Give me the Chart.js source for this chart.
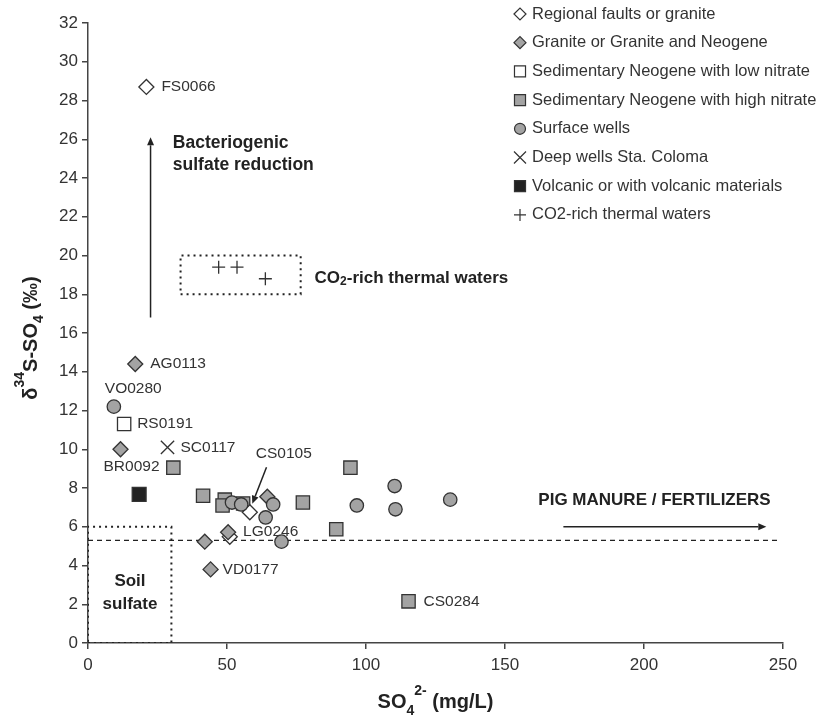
<!DOCTYPE html>
<html>
<head>
<meta charset="utf-8">
<script src="https://cdn.jsdelivr.net/npm/chart.js@4"></script>
<style>
html, body { margin: 0; padding: 0; background: #fff; }
#wrap { width: 820px; height: 719px; }
</style>
</head>
<body>
<div id="wrap"><canvas id="chart" width="820" height="719"></canvas></div>
<script>
// Ticks
const xTickValues = [0, 50, 100, 150, 200, 250];
const yTickValues = [0, 2, 4, 6, 8, 10, 12, 14, 16, 18, 20, 22, 24, 26, 28, 30, 32];

// Series (SO4 mg/L, d34S permil)
const faultsX = [21, 58.2, 51.0];
const faultsY = [28.7, 6.75, 5.48];

const graniteX = [17, 11.7, 64.5, 50.4, 42, 44.1];
const graniteY = [14.4, 10.0, 7.55, 5.72, 5.23, 3.8];

const lowNitrateX = [13];
const lowNitrateY = [11.3];

const highNitrateX = [30.7, 41.4, 49.2, 48.4, 55.8, 77.3, 94.4, 89.3, 115.3];
const highNitrateY = [9.05, 7.6, 7.4, 7.1, 7.2, 7.25, 9.05, 5.87, 2.15];

const surfaceX = [9.3, 51.8, 55.1, 66.6, 63.9, 69.6, 96.7, 110.3, 110.6, 130.3];
const surfaceY = [12.2, 7.25, 7.15, 7.15, 6.48, 5.23, 7.1, 8.1, 6.9, 7.4];

const deepX = [28.6];
const deepY = [10.1];

const volcanicX = [18.4];
const volcanicY = [7.67];

const co2X = [47, 53.6, 63.8];
const co2Y = [19.4, 19.4, 18.8];

// Reference lines / boxes
const thresholdY = 5.3;
const thresholdXEnd = 248;
const soilBox = { x0: 0, x1: 30, y0: 0, y1: 6 };
const co2Box = { x0: 33.3, x1: 76.5, y0: 18, y1: 20 };

// Labelled samples
const pointLabels = [
    { name: "FS0066", x: 21, y: 28.7 },
    { name: "AG0113", x: 17, y: 14.4 },
    { name: "VO0280", x: 9.3, y: 12.2 },
    { name: "RS0191", x: 13, y: 11.3 },
    { name: "BR0092", x: 11.7, y: 10.0 },
    { name: "SC0117", x: 28.6, y: 10.1 },
    { name: "CS0105", x: 58.2, y: 6.75 },
    { name: "LG0246", x: 50.4, y: 5.72 },
    { name: "VD0177", x: 44.1, y: 3.8 },
    { name: "CS0284", x: 115.3, y: 2.15 },
];

const FONT = '"Liberation Sans", Arial, sans-serif';
const GRAY = "#a3a3a3";
const EDGE = "#333";
const zip = (xs, ys) => xs.map((x, i) => ({ x, y: ys[i] }));

// label offsets in pixels from the point
const labelOffsets = {
    FS0066: [15, 0], AG0113: [15, 0], VO0280: [-9, -18], RS0191: [13, 0],
    BR0092: [-17, 17], SC0117: [13, 0], CS0105: [6, -59], LG0246: [15, 0],
    VD0177: [12, 0], CS0284: [15, 0],
};

const legendItems = [
    { text: "Regional faults or granite", style: "rectRot", fill: "#fff", r: 6 },
    { text: "Granite or Granite and Neogene", style: "rectRot", fill: GRAY, r: 6 },
    { text: "Sedimentary Neogene with low nitrate", style: "rect", fill: "#fff", r: 7.8 },
    { text: "Sedimentary Neogene with high nitrate", style: "rect", fill: GRAY, r: 7.8 },
    { text: "Surface wells", style: "circle", fill: GRAY, r: 5.5 },
    { text: "Deep wells Sta. Coloma", style: "crossRot", fill: "#fff", r: 8.5 },
    { text: "Volcanic or with volcanic materials", style: "rect", fill: "#222", r: 7.8 },
    { text: "CO2-rich thermal waters", style: "cross", fill: "#fff", r: 6 },
];

function scatterSet(label, xs, ys, style, fill, radius, order) {
    return {
        type: "scatter", label, data: zip(xs, ys), order,
        pointStyle: style, pointRadius: radius, pointHoverRadius: radius,
        backgroundColor: fill, borderColor: EDGE, borderWidth: 1.3,
    };
}

function lineSet(points, dash, width) {
    return {
        type: "line", data: points, order: 20, showLine: true,
        borderColor: "#222", borderWidth: width, borderDash: dash,
        pointRadius: 0, fill: false, tension: 0, borderCapStyle: "butt",
    };
}

function boxPoints(b) {
    return [
        { x: b.x0, y: b.y0 }, { x: b.x1, y: b.y0 }, { x: b.x1, y: b.y1 },
        { x: b.x0, y: b.y1 }, { x: b.x0, y: b.y0 },
    ];
}

function arrow(ctx, x1, y1, x2, y2) {
    const a = Math.atan2(y2 - y1, x2 - x1), head = 8, w = 3.5;
    const bx = x2 - head * Math.cos(a), by = y2 - head * Math.sin(a);
    ctx.beginPath(); ctx.moveTo(x1, y1); ctx.lineTo(bx, by); ctx.stroke();
    ctx.beginPath();
    ctx.moveTo(x2, y2);
    ctx.lineTo(bx + w * Math.sin(a), by - w * Math.cos(a));
    ctx.lineTo(bx - w * Math.sin(a), by + w * Math.cos(a));
    ctx.closePath(); ctx.fill();
}

// parts: [text, fontSize, dy]
function richText(ctx, parts, x, y, bold) {
    const w = parts.reduce((s, p) => {
        ctx.font = `${bold ? "bold " : ""}${p[1]}px ${FONT}`;
        return s + ctx.measureText(p[0]).width;
    }, 0);
    let cx = x - w / 2;
    parts.forEach(p => {
        ctx.font = `${bold ? "bold " : ""}${p[1]}px ${FONT}`;
        ctx.fillText(p[0], cx, y + p[2]);
        cx += ctx.measureText(p[0]).width;
    });
}

const annotations = {
    id: "annotations",
    afterDatasetsDraw(chart) {
        const { ctx, scales: { x, y } } = chart;
        const px = v => x.getPixelForValue(v), py = v => y.getPixelForValue(v);
        ctx.save();
        ctx.fillStyle = "#333";
        ctx.strokeStyle = "#222";
        ctx.textBaseline = "middle";
        ctx.textAlign = "left";

        // sample labels
        ctx.font = `15.5px ${FONT}`;
        pointLabels.forEach(l => {
            const o = labelOffsets[l.name];
            ctx.fillText(l.name, px(l.x) + o[0], py(l.y) + o[1]);
        });

        // arrows
        ctx.fillStyle = "#222";
        ctx.lineWidth = 1.5;
        arrow(ctx, px(22.5), py(16.8), px(22.5), py(26.1));
        arrow(ctx, px(171), py(6.0), px(244), py(6.0));
        const cs = pointLabels.find(l => l.name === "CS0105");
        arrow(ctx, px(cs.x) + 16.7, py(cs.y) - 45, px(cs.x) + 2.5, py(cs.y) - 8.5);

        // bold notes
        ctx.fillStyle = "#222";
        ctx.font = `bold 17.5px ${FONT}`;
        ctx.fillText("Bacteriogenic", px(30.5), py(25.8));
        ctx.fillText("sulfate reduction", px(30.5), py(24.67));
        ctx.font = `bold 17px ${FONT}`;
        ctx.fillText("PIG MANURE / FERTILIZERS", px(162), py(7.35));
        ctx.textAlign = "center";
        ctx.fillText("Soil", px(15.1), py(3.2));
        ctx.fillText("sulfate", px(15.1), py(2.0));
        ctx.textAlign = "left";
        ctx.fillText("CO", px(81.5), py(18.84));
        let cx = px(81.5) + ctx.measureText("CO").width;
        ctx.font = `bold 12px ${FONT}`;
        ctx.fillText("2", cx, py(18.84) + 4);
        cx += ctx.measureText("2").width;
        ctx.font = `bold 17px ${FONT}`;
        ctx.fillText("-rich thermal waters", cx, py(18.84));

        // axis titles
        ctx.textBaseline = "alphabetic";
        ctx.textAlign = "left";
        richText(ctx, [["SO", 20, 0], ["4", 14, 7], ["2-", 14, -13], [" (mg/L)", 20, 0]], (x.left + x.right) / 2, 708, true);
        ctx.save();
        ctx.translate(37, (y.top + y.bottom) / 2 + 5);
        ctx.rotate(-Math.PI / 2);
        richText(ctx, [["δ", 20, 0], ["34", 14, -13], ["S-SO", 20, 0], ["4", 14, 6], [" (‰)", 20, 0]], 0, 0, true);
        ctx.restore();

        ctx.restore();
    },
    afterDraw(chart) {
        const { ctx } = chart;
        ctx.save();
        ctx.textBaseline = "middle";
        ctx.textAlign = "left";
        ctx.font = `16.5px ${FONT}`;
        legendItems.forEach((it, i) => {
            const ly = 14 + 28.7 * i;
            ctx.fillStyle = it.fill;
            ctx.strokeStyle = EDGE;
            ctx.lineWidth = 1.2;
            Chart.helpers.drawPoint(ctx, { pointStyle: it.style, radius: it.r, rotation: 0, borderWidth: 1.2 }, 520, ly);
            ctx.fillStyle = "#333";
            ctx.fillText(it.text, 532, ly);
        });
        ctx.restore();
    }
};

Chart.defaults.font.family = FONT;

const axisCommon = {
    type: "linear",
    grid: { display: true, drawOnChartArea: false, drawTicks: true, tickLength: 6, color: "#444", lineWidth: 1.5 },
    border: { display: true, color: "#444", width: 1.5 },
    ticks: { color: "#333", font: { size: 17 }, maxRotation: 0 },
    title: { display: false },
};

new Chart(document.getElementById("chart"), {
    type: "scatter",
    data: {
        datasets: [
            scatterSet("Surface wells", surfaceX, surfaceY, "circle", GRAY, 6.7, 1),
            scatterSet("Granite or Granite and Neogene", graniteX, graniteY, "rectRot", GRAY, 7.5, 2),
            scatterSet("Regional faults or granite", faultsX, faultsY, "rectRot", "#fff", 7.5, 3),
            scatterSet("Sedimentary Neogene with low nitrate", lowNitrateX, lowNitrateY, "rect", "#fff", 9.4, 4),
            scatterSet("Sedimentary Neogene with high nitrate", highNitrateX, highNitrateY, "rect", GRAY, 9.4, 5),
            scatterSet("Deep wells Sta. Coloma", deepX, deepY, "crossRot", "#fff", 9.4, 6),
            scatterSet("Volcanic or with volcanic materials", volcanicX, volcanicY, "rect", "#222", 9.8, 7),
            scatterSet("CO2-rich thermal waters", co2X, co2Y, "cross", "#fff", 6.5, 8),
            lineSet([{ x: 0, y: thresholdY }, { x: thresholdXEnd, y: thresholdY }], [5, 4], 1.2),
            lineSet(boxPoints(soilBox), [2, 4], 2),
            lineSet(boxPoints(co2Box), [2, 4], 2),
        ]
    },
    options: {
        responsive: false,
        animation: false,
        events: [],
        layout: { padding: { top: 23, right: 37, left: 0, bottom: 0 } },
        plugins: { legend: { display: false }, tooltip: { enabled: false } },
        scales: {
            x: {
                ...axisCommon, min: 0, max: 250,
                ticks: { ...axisCommon.ticks, padding: 6 },
                afterBuildTicks: s => { s.ticks = xTickValues.map(v => ({ value: v })); },
                afterFit: s => { s.height = 76; },
            },
            y: {
                ...axisCommon, min: 0, max: 32,
                ticks: { ...axisCommon.ticks, padding: 4 },
                afterBuildTicks: s => { s.ticks = yTickValues.map(v => ({ value: v })); },
                afterFit: s => { s.width = 88; },
            }
        }
    },
    plugins: [annotations]
});
</script>
</body>
</html>
